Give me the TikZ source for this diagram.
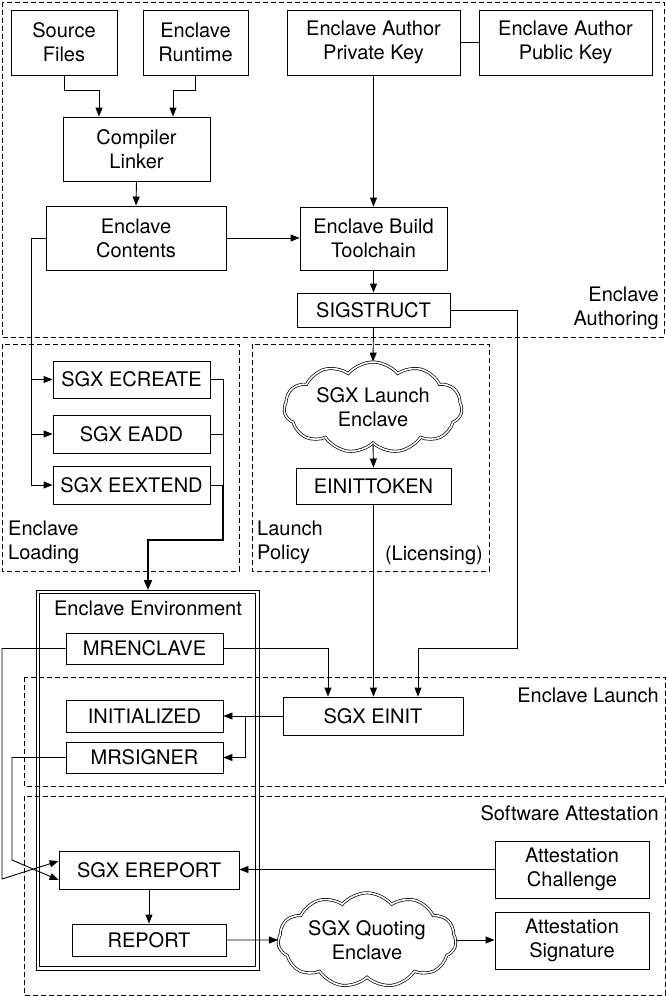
\documentclass[tikz,border=0pt]{standalone}
\usepackage{fontspec}
\setmainfont{TeX Gyre Heros}
\usetikzlibrary{arrows.meta,shapes.symbols,calc}
\begin{document}
\begin{tikzpicture}[x=1pt,y=-1pt,
  font=\fontsize{20}{24}\selectfont,
  box/.style={draw, line width=0.9pt, align=center, inner sep=0pt},
  grp/.style={draw, line width=0.9pt, dash pattern=on 5pt off 3pt},
  cld/.style={cloud, draw, double, double distance=1.6pt, line width=0.7pt, cloud puffs=11, cloud puff arc=100, aspect=2.2, cloud ignores aspect=false, align=center, inner sep=0pt, minimum width=178pt, minimum height=80pt},
  conn/.style={line width=0.9pt},
  arr/.style={conn, -{Triangle[length=9pt,width=7pt]}},
  thickarr/.style={line width=1.8pt, -{Triangle[length=10pt,width=8pt]}},
  lbl/.style={inner sep=0pt}
]
\useasboundingbox (0,0) rectangle (666,996);
% groups
\draw[grp] (2,2) rectangle (664,337);
\draw[grp] (2,344) rectangle (239,571);
\draw[grp] (252,344) rectangle (489,571);
\draw[grp] (24,677) rectangle (665,786);
\draw[grp] (24,796) rectangle (665,995);
\draw[line width=0.9pt] (36,590) rectangle (259,970);
\draw[line width=0.9pt] (39.5,593.5) rectangle (255.5,966.5);
\coordinate (envtop) at (148,590);
% labels
\node[lbl, anchor=east, align=right] (lauth) at (659,308) {Enclave\\Authoring};
\node[lbl, anchor=east] (llaunch) at (659,695) {Enclave Launch};
\node[lbl, anchor=east] (latt) at (659,813) {Software Attestation};
\node[lbl, anchor=west, align=left] (lload) at (8,542) {Enclave\\Loading};
\node[lbl, anchor=west, align=left] (lpol) at (257,542) {Launch\\Policy};
\node[lbl, anchor=east] (llic) at (483,555) {(Licensing)};
\node[lbl] (lenv) at (148,608) {Enclave Environment};
% boxes
\node[box, minimum width=106pt, minimum height=65pt] (src) at (64,42.5) {Source\\Files};
\node[box, minimum width=105pt, minimum height=65pt] (rt) at (195.5,42.5) {Enclave\\Runtime};
\node[box, minimum width=173pt, minimum height=65pt] (priv) at (373.5,42.5) {Enclave Author\\Private Key};
\node[box, minimum width=173pt, minimum height=65pt] (pub) at (565.5,42.5) {Enclave Author\\Public Key};
\node[box, minimum width=147pt, minimum height=64pt] (comp) at (136.5,149) {Compiler\\Linker};
\node[box, minimum width=180pt, minimum height=64pt] (cont) at (136,238) {Enclave\\Contents};
\node[box, minimum width=147pt, minimum height=63pt] (build) at (373.5,238.5) {Enclave Build\\Toolchain};
\node[box, minimum width=153pt, minimum height=34pt] (sig) at (373.5,310) {SIGSTRUCT};
\node[box, minimum width=157pt, minimum height=37pt] (ecr) at (131.5,379.5) {SGX ECREATE};
\node[box, minimum width=157pt, minimum height=38pt] (eadd) at (131.5,434) {SGX EADD};
\node[box, minimum width=157pt, minimum height=38pt] (eext) at (131.5,485) {SGX EEXTEND};
\node[cld] (lenc) at (373,407.5) {SGX Launch\\Enclave};
\node[box, minimum width=155pt, minimum height=36pt] (tok) at (373.5,486) {EINITTOKEN};
\node[box, minimum width=157pt, minimum height=31pt] (mren) at (144.5,648.5) {MRENCLAVE};
\node[box, minimum width=180pt, minimum height=38pt] (einit) at (373,716) {SGX EINIT};
\node[box, minimum width=157pt, minimum height=32pt] (init) at (144.5,716) {INITIALIZED};
\node[box, minimum width=157pt, minimum height=31pt] (mrs) at (144.5,757.5) {MRSIGNER};
\node[box, minimum width=180pt, minimum height=38pt] (erep) at (149,870) {SGX EREPORT};
\node[box, minimum width=154pt, minimum height=32pt] (rep) at (149,940) {REPORT};
\node[cld] (qenc) at (367,940) {SGX Quoting\\Enclave};
\node[box, minimum width=154pt, minimum height=57pt] (chal) at (572,869.5) {Attestation\\Challenge};
\node[box, minimum width=154pt, minimum height=57pt] (asig) at (572,940.5) {Attestation\\Signature};
% helper coordinates
\coordinate (lx) at (31,0);
\coordinate (rx) at (223,0);
\coordinate (jx) at (245,0);
% connectors
\draw[arr] (src.south) -- ++(0,15) -| ([xshift=-37.5]comp.north);
\draw[arr] (rt.south) -- ++(0,15) -| ([xshift=36.5]comp.north);
\draw[arr] (comp.south) -- (cont.north);
\draw[arr] (cont.east) -- (cont.east -| build.west);
\draw[arr] (priv.south) -- (build.north);
\draw[conn] (priv.east) -- (pub.west);
\draw[arr] (build.south) -- (sig.north);
\draw[arr] (sig.south) -- (lenc.north);
\draw[arr] (lenc.south) -- (tok.north);
\draw[arr] (tok.south) -- (tok.south |- einit.north);
\draw[arr] (sig.east) -| (517,648) -| ([xshift=45]einit.north);
\draw[arr] (mren.east) -| ([xshift=-45]einit.north);
% loading
\draw[arr] (cont.west) -| (eext.west -| lx) -- (eext.west);
\draw[arr] (ecr.west -| lx) -- (ecr.west);
\draw[arr] (eadd.west -| lx) -- (eadd.west);
\draw[conn] (ecr.east) -- (ecr.east -| rx) -- (eext.east -| rx);
\draw[conn] (eadd.east) -- (eadd.east -| rx);
\draw[conn] (eext.east) -- (eext.east -| rx);
\draw[thickarr] (eext.east -| rx) -- (223,540) -| (envtop);
% launch
\draw[arr] (einit.west) -- (init.east);
\draw[arr] (einit.west -| jx) |- (mrs.east);
% attestation
\draw[arr] (mren.west) -| (2,879) -- ([yshift=9]erep.west);
\draw[arr] (mrs.west) -| (12,860) -- ([yshift=-10]erep.west);
\draw[arr] (chal.west) -- (chal.west -| erep.east);
\draw[arr] (erep.south) -- (rep.north);
\draw[arr] (rep.east) -- (qenc.west);
\draw[arr] (qenc.east) -- (qenc.east -| asig.west);
\end{tikzpicture}
\end{document}
